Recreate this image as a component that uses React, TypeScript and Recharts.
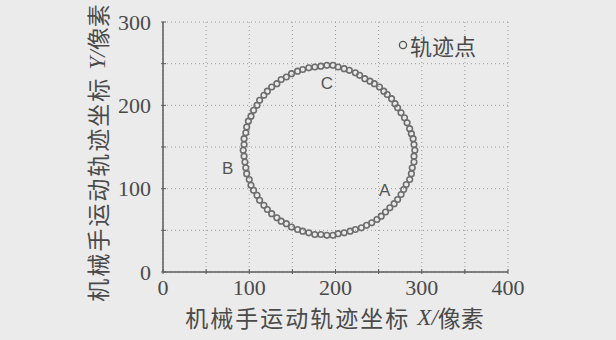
import { CartesianGrid, Legend, Scatter, ScatterChart, XAxis, YAxis } from "recharts";

const xTicks = [0, 50, 100, 150, 200, 250, 300, 350, 400];
const yTicks = [0, 50, 100, 150, 200, 250, 300];

const trackX = [
  292, 291, 290, 288, 286, 283, 280, 276, 272, 269, 265, 260, 256, 251, 245, 240, 234, 228, 223, 216, 210, 203, 197,
  190, 183, 176, 169, 162, 156, 149, 143, 137, 132, 126, 121, 117, 112, 109, 105, 102, 99, 97, 96, 94, 94, 93,
  94, 95, 96, 97, 100, 102, 105, 109, 112, 117, 121, 126, 132, 137, 143, 149, 156, 162, 169, 176, 183, 190,
  197, 203, 210, 217, 223, 230, 236, 242, 248, 253, 258, 263, 268, 272, 276, 279, 282, 286, 288, 289, 291, 291,
];
const trackY = [
  146, 153, 160, 166, 172, 179, 185, 191, 197, 202, 208, 213, 217, 222, 226, 229, 232, 236, 239, 242, 244, 246, 248,
  248, 247, 246, 245, 243, 241, 238, 234, 231, 226, 222, 217, 212, 206, 200, 194, 187, 181, 174, 167, 160, 153, 146,
  139, 132, 125, 118, 111, 104, 98, 92, 86, 80, 75, 70, 65, 61, 58, 54, 51, 49, 47, 45, 45, 44,
  44, 46, 47, 49, 51, 53, 56, 59, 63, 67, 72, 77, 82, 87, 93, 99, 105, 111, 118, 125, 132, 139,
];

const noteNames = ["A", "B", "C"];
const noteX = [257, 75, 190];
const noteY = [98, 124, 226];

const legendName = "轨迹点";

const track = trackX.map((x, i) => ({ x, y: trackY[i] }));
const notes = noteNames.map((name, i) => ({ name, x: noteX[i], y: noteY[i] }));

const ink = "#4a4a4a";
const frame = "#5c5c5c";
const serif = "'Liberation Serif', 'Times New Roman', serif";
const cjk = "'Noto Sans CJK SC', sans-serif";

function BottomTick({ x, y, payload }: any) {
  return (
    <g>
      <line x1={x} y1={y} x2={x} y2={y - 5} stroke={frame} />
      {payload.value % 100 === 0 && (
        <text x={x} y={y + 4} dy="0.75em" textAnchor="middle" fill={ink} fontSize={22} fontFamily={serif}>
          {payload.value}
        </text>
      )}
    </g>
  );
}

function LeftTick({ x, y, payload }: any) {
  return (
    <g>
      <line x1={x} y1={y} x2={x + 5} y2={y} stroke={frame} />
      {payload.value % 100 === 0 && (
        <text x={x - 10} y={y} dy="0.35em" textAnchor="end" fill={ink} fontSize={22} fontFamily={serif}>
          {payload.value}
        </text>
      )}
    </g>
  );
}

function TopTick({ x, y }: any) {
  return <line x1={x} y1={y} x2={x} y2={y + 5} stroke={frame} />;
}

function RightTick({ x, y }: any) {
  return <line x1={x} y1={y} x2={x - 5} y2={y} stroke={frame} />;
}

function axisTitle(letter: string) {
  return (
    <>
      <tspan fontFamily={cjk} letterSpacing={2}>机械手运动轨迹坐标 </tspan>
      <tspan fontFamily={serif} fontStyle="italic">{letter}/</tspan>
      <tspan fontFamily={cjk}>像素</tspan>
    </>
  );
}

function NoteMark(p: any) {
  return (
    <text x={p.cx} y={p.cy} textAnchor="middle" dominantBaseline="central" fontSize={17} fill="#555"
      fontFamily="'Liberation Sans', Arial, sans-serif">
      {p.payload.name}
    </text>
  );
}

function TrackDot(p: any) {
  return <circle cx={p.cx} cy={p.cy} r={2.8} fill="none" stroke="#6e6e6e" strokeWidth={1.6} />;
}

export default function App() {
  return (
    <div style={{ position: "fixed", left: 0, top: 0, width: 616, height: 340, background: "#ebebeb" }}>
      <ScatterChart width={616} height={340} margin={{ top: 22, right: 108, bottom: 28, left: 103 }}>
        <CartesianGrid xAxisId="b" yAxisId="l" stroke="#9c9c9c" strokeDasharray="1 3" />
        <XAxis
          xAxisId="b" type="number" dataKey="x" domain={[0, 400]} ticks={xTicks} height={40}
          tickSize={0} tickLine={false} tick={<BottomTick />} axisLine={{ stroke: frame, strokeWidth: 1.5 }}
          label={{
            content: ({ viewBox }: any) => (
              <text x={viewBox.x + viewBox.width / 2 - 1} y={viewBox.y + 45} textAnchor="middle"
                dominantBaseline="central" fontSize={23} fill={ink}>
                {axisTitle("X")}
              </text>
            ),
          }}
        />
        <XAxis
          xAxisId="t" orientation="top" type="number" dataKey="x" domain={[0, 400]} ticks={xTicks} height={0}
          tickSize={0} tickLine={false} tick={<TopTick />} axisLine={{ stroke: frame, strokeWidth: 1.5 }}
        />
        <YAxis
          yAxisId="l" type="number" dataKey="y" domain={[0, 300]} ticks={yTicks} width={60}
          tickSize={0} tickLine={false} tick={<LeftTick />} axisLine={{ stroke: frame, strokeWidth: 1.5 }}
          label={{
            content: ({ viewBox }: any) => {
              const cx = viewBox.x - 6;
              const cy = viewBox.y + 131;
              return (
                <text x={cx} y={cy} transform={`rotate(-90, ${cx}, ${cy})`} textAnchor="middle"
                  dominantBaseline="central" fontSize={23} fill={ink}>
                  {axisTitle("Y")}
                </text>
              );
            },
          }}
        />
        <YAxis
          yAxisId="r" orientation="right" type="number" dataKey="y" domain={[0, 300]} ticks={yTicks} width={0}
          tickSize={0} tickLine={false} tick={<RightTick />} axisLine={{ stroke: frame, strokeWidth: 1.5 }}
        />
        <Legend
          layout="horizontal" verticalAlign="middle" align="center"
          wrapperStyle={{ left: 396, top: 28, width: 100, height: 36 }}
          content={() => (
            <svg width={100} height={36} style={{ overflow: "visible" }}>
              <circle cx={7} cy={17} r={3.6} fill="none" stroke="#555" strokeWidth={1.3} />
              <text x={14} y={17} dominantBaseline="central" fontSize={22} fill={ink} fontFamily={cjk}>
                {legendName}
              </text>
            </svg>
          )}
        />
        <Scatter name={legendName} data={track} xAxisId="b" yAxisId="l" shape={<TrackDot />} isAnimationActive={false} />
        <Scatter data={notes} xAxisId="b" yAxisId="l" legendType="none" shape={<NoteMark />} isAnimationActive={false} />
      </ScatterChart>
    </div>
  );
}
